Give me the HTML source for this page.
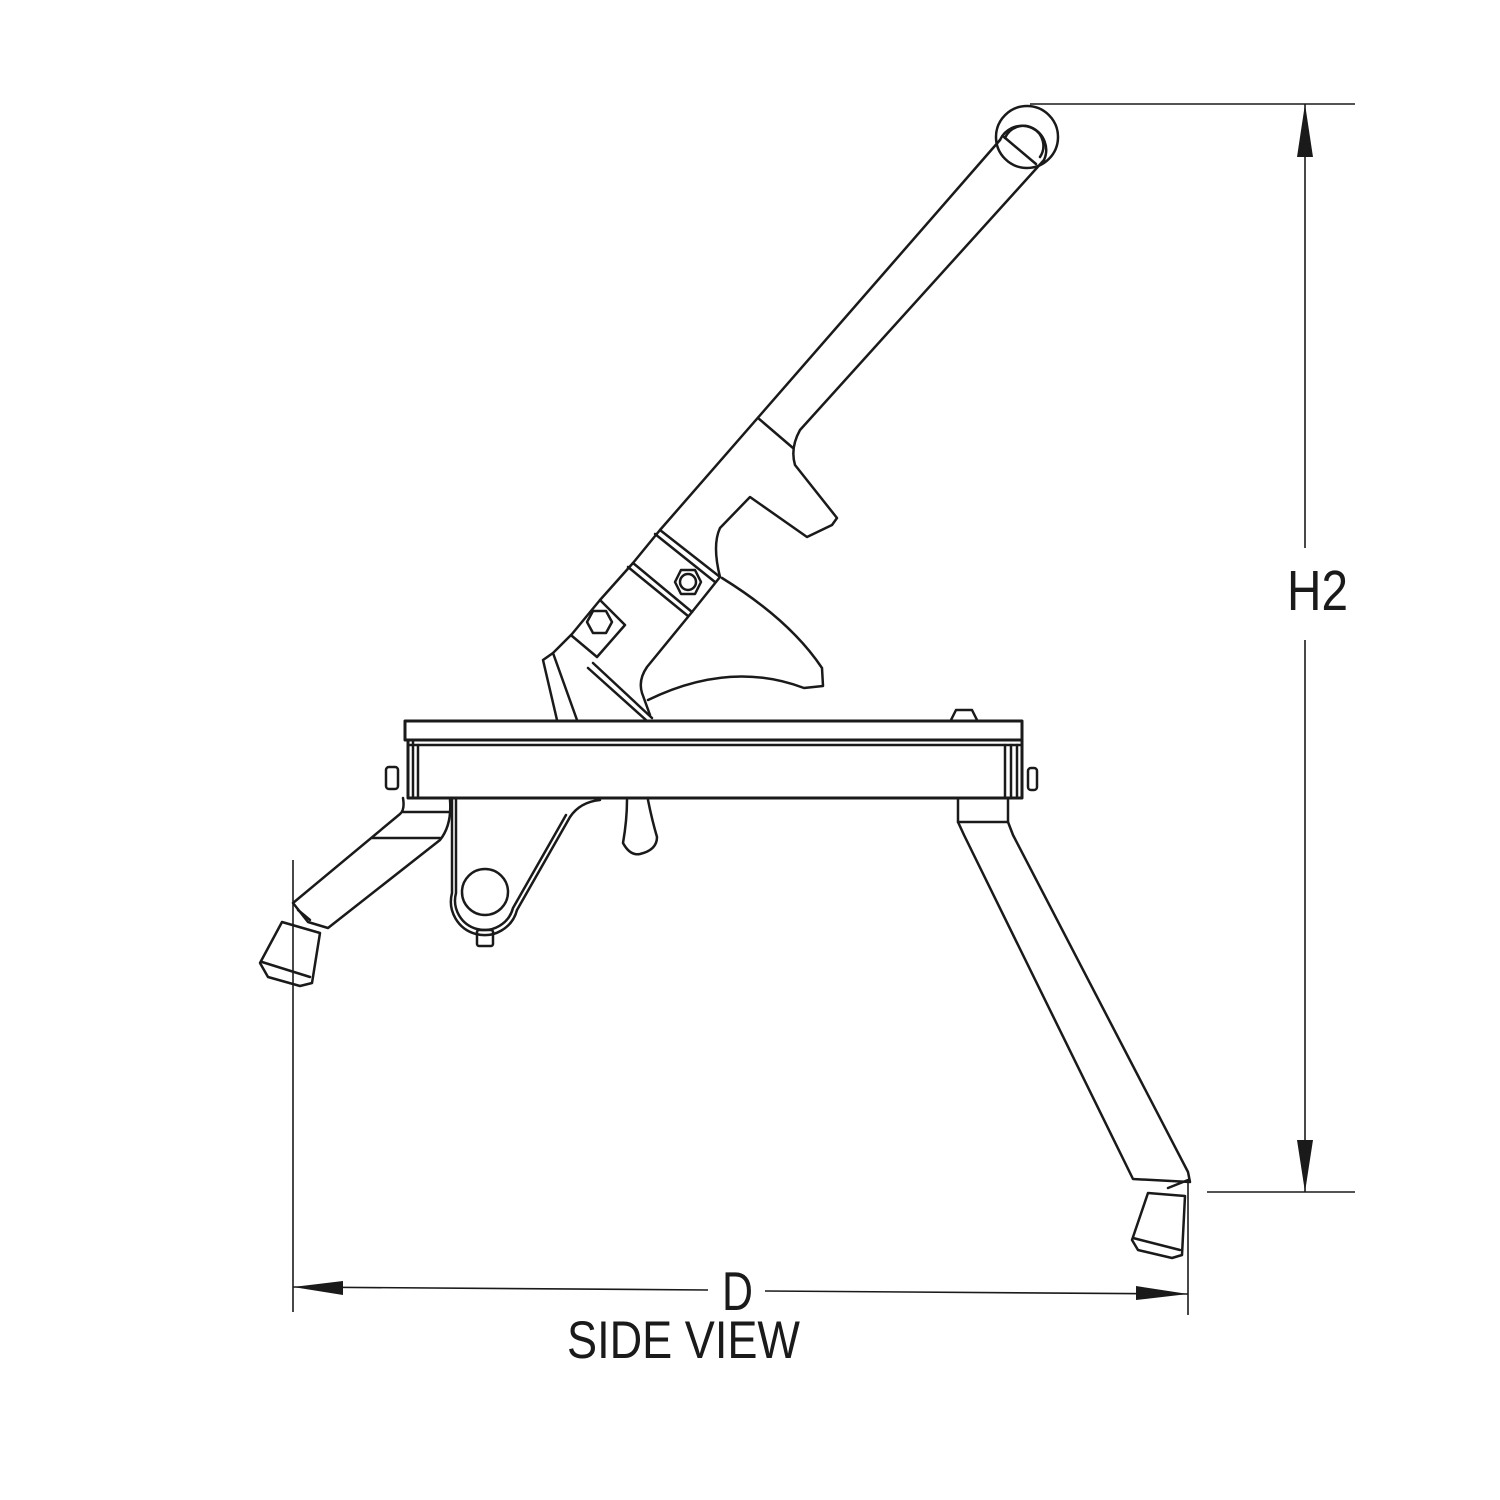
<!DOCTYPE html>
<html><head><meta charset="utf-8"><style>html,body{margin:0;padding:0;background:#fff}svg{display:block}</style></head>
<body>
<svg width="1500" height="1500" viewBox="0 0 1500 1500" xmlns="http://www.w3.org/2000/svg">
<g fill="none" stroke="#1a1a1a" stroke-width="2.5" stroke-linejoin="round" stroke-linecap="round">
<!-- handle top -->
<circle cx="1027" cy="137" r="31"/>
<path d="M1000,140 A24,24 0 1 1 1044,160"/>
<path d="M1005,138 A20,20 0 1 1 1040,157"/>
<line x1="1004" y1="137" x2="1036" y2="164"/>
<!-- handle tube -->
<path d="M1000,140 L660,530 L633,563 L600,600 L572,634 L553,653 L543,660 L557,720"/>
<path d="M1044,160 L800,430 Q790,448 795,465 L837,518 L832,525 L807,537 L750,497 L720,528 Q712,545 720,577"/>
<line x1="758" y1="418" x2="793" y2="448"/>
<!-- clamp bands -->
<line x1="660" y1="530" x2="720" y2="577"/>
<line x1="655" y1="534" x2="715" y2="582"/>
<line x1="633" y1="563" x2="692" y2="612"/>
<line x1="628" y1="567" x2="688" y2="616"/>
<line x1="720" y1="577" x2="692" y2="612"/>
<path d="M692,612 L647,667 Q638,680 642,693 L650,715"/>
<!-- sector -->
<path d="M722,578 Q790,620 822,668 L823,686 L804,688 Q730,660 648,700"/>
<!-- small bracket -->
<path d="M600,600 L625,625 L597,657 L572,636"/>
<path d="M593,663 L652,718"/>
<path d="M588,668 L646,720"/>
<line x1="553" y1="653" x2="577" y2="720"/>
<polygon points="681,570 695,570 701,582 695,594 681,594 675,582"/>
<circle cx="688" cy="582" r="8"/>
<polygon points="593,611 606,611 612,622 606,633 593,633 587,622"/>
<!-- beam -->
<rect x="405" y="721" width="617" height="19" stroke-width="3"/>
<rect x="408" y="740" width="614" height="58" stroke-width="3"/>
<line x1="408" y1="745" x2="1022" y2="745"/>
<line x1="413" y1="740" x2="413" y2="798"/>
<line x1="418" y1="745" x2="418" y2="798"/>
<line x1="1005" y1="745" x2="1005" y2="798"/>
<line x1="1011" y1="745" x2="1011" y2="798"/>
<line x1="1017" y1="745" x2="1017" y2="798"/>
<rect x="386" y="767" width="12" height="22" rx="3"/>
<rect x="1028" y="768" width="9" height="22" rx="3"/>
<path d="M951,720 L956,710 L972,710 L977,720"/>
<!-- left leg -->
<path d="M403,798 Q405,810 400,814 L293,903 L308,922 L328,928 L440,840 Q452,825 450,800"/>
<line x1="403" y1="812" x2="450" y2="812"/>
<line x1="372" y1="838" x2="440" y2="838"/>
<line x1="298" y1="910" x2="310" y2="920"/>
<path d="M282,922 L320,933 L312,983 L300,986 L268,977 L260,963 Z"/>
<line x1="262" y1="962" x2="310" y2="977"/>
<!-- bracket under beam -->
<path d="M452,800 L452,893 A33,33 0 0 0 517,910 L570,817 Q580,802 600,800"/>
<path d="M456,800 L456,893 A29,29 0 0 0 513,908 L566,815"/>
<circle cx="485" cy="892" r="23"/>
<rect x="477" y="930" width="16" height="16" rx="2"/>
<path d="M627,800 Q627,820 623,843 Q630,856 640,854 Q657,850 657,837 Q652,820 648,800"/>
<!-- right leg -->
<path d="M958,798 L958,822 L964,835 L1133,1179 L1190,1182 L1188,1172 L1013,835 L1008,822 L1008,798"/>
<line x1="958" y1="822" x2="1008" y2="822"/>
<line x1="1168" y1="1188" x2="1188" y2="1180"/>
<path d="M1148,1193 L1185,1196 L1182,1255 L1172,1258 L1138,1250 L1132,1240 Z"/>
<line x1="1133" y1="1238" x2="1180" y2="1250"/>
</g>
<!-- dimensions -->
<g stroke="#1a1a1a" stroke-width="1.6" fill="none">
<line x1="1030" y1="104" x2="1355" y2="104"/>
<line x1="1207" y1="1192" x2="1355" y2="1192"/>
<line x1="1305" y1="104" x2="1305" y2="548"/>
<line x1="1305" y1="640" x2="1305" y2="1192"/>
<line x1="293" y1="860" x2="293" y2="1312"/>
<line x1="1188" y1="1180" x2="1188" y2="1315"/>
<line x1="293" y1="1287" x2="708" y2="1290"/>
<line x1="765" y1="1291" x2="1188" y2="1294"/>
</g>
<g fill="#1a1a1a">
<polygon points="1305,104 1297,157 1313,157"/>
<polygon points="1305,1192 1297,1140 1313,1140"/>
<polygon points="293,1287 343,1281 343,1295"/>
<polygon points="1188,1294 1136,1286 1136,1300"/>
</g>
<g font-family="Liberation Sans, sans-serif" fill="#1a1a1a">
<text x="1287" y="610" font-size="57" textLength="61" lengthAdjust="spacingAndGlyphs">H2</text>
<text x="722" y="1310" font-size="55" textLength="31" lengthAdjust="spacingAndGlyphs">D</text>
<text x="567" y="1358" font-size="53" textLength="233" lengthAdjust="spacingAndGlyphs">SIDE VIEW</text>
</g>
</svg>
</body></html>
